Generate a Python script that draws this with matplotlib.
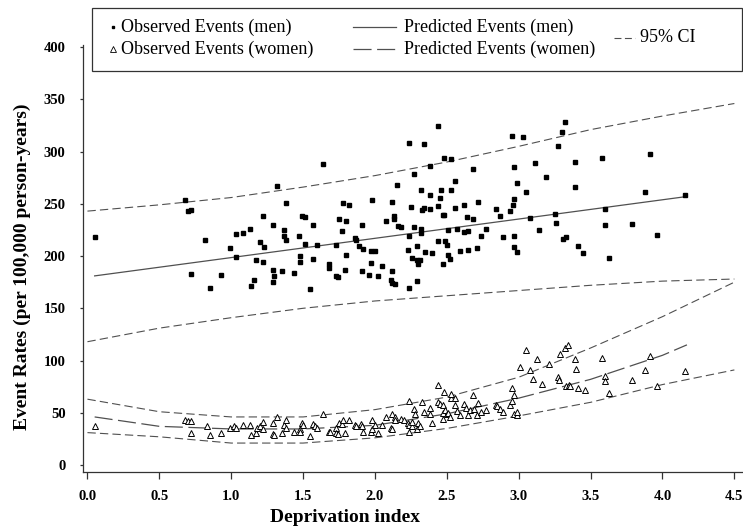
"""
Event rates by deprivation index, men and women, with fitted curves and 95% CI.
"""

import numpy as np
import matplotlib
matplotlib.use('Agg')
import matplotlib.pyplot as plt
from matplotlib.lines import Line2D
from matplotlib.patches import Rectangle

plt.rcParams['font.family'] = ['Liberation Serif', 'DejaVu Serif']
plt.rcParams['lines.scale_dashes'] = False

# Observed events (men)
men_x = [0.05, 0.68, 0.70, 0.72, 0.72, 0.82, 0.85, 0.93, 0.99, 1.03, 1.03, 1.08, 1.13, 1.14, 1.16,
         1.17, 1.20, 1.22, 1.22, 1.23, 1.29, 1.29, 1.30, 1.29, 1.32, 1.35, 1.37, 1.37, 1.38, 1.38,
         1.44, 1.47, 1.48, 1.48, 1.49, 1.51, 1.51, 1.55, 1.57, 1.57, 1.60, 1.64, 1.68, 1.68, 1.73,
         1.73, 1.74, 1.75, 1.77, 1.78, 1.79, 1.80, 1.80, 1.82, 1.86, 1.87, 1.89, 1.91, 1.91, 1.92,
         1.97, 2.00, 1.97, 1.96, 1.98, 2.02, 2.05, 2.08, 2.12, 2.13, 2.13, 2.12, 2.11, 2.12, 2.14,
         2.15, 2.16, 2.18, 2.24, 2.24, 2.25, 2.23, 2.24, 2.26, 2.29, 2.31, 2.27, 2.27, 2.29, 2.29,
         2.30, 2.32, 2.32, 2.32, 2.33, 2.34, 2.34, 2.35, 2.38, 2.38, 2.38, 2.40, 2.44, 2.44, 2.45,
         2.44, 2.46, 2.47, 2.48, 2.47, 2.48, 2.53, 2.49, 2.50, 2.51, 2.51, 2.52, 2.53, 2.56, 2.56,
         2.57, 2.59, 2.62, 2.62, 2.65, 2.64, 2.65, 2.68, 2.68, 2.71, 2.72, 2.74, 2.77, 2.84, 2.87,
         2.89, 2.94, 2.95, 2.96, 2.97, 2.97, 2.97, 2.97, 2.99, 2.99, 3.03, 3.05, 3.08, 3.11, 3.14,
         3.19, 3.25, 3.26, 3.27, 3.30, 3.32, 3.31, 3.33, 3.39, 3.39, 3.41, 3.45, 3.58, 3.60, 3.60,
         3.63, 3.79, 3.88, 3.91, 3.96, 4.16]
men_y = [218, 254, 243, 244, 183, 215, 169, 182, 208, 221, 199, 222, 226, 171, 177,
         196, 213, 238, 194, 209, 230, 187, 181, 175, 267, 186, 225, 219, 251, 215,
         184, 219, 200, 194, 238, 237, 212, 168, 230, 197, 211, 288, 192, 189, 211,
         181, 180, 235, 224, 251, 187, 234, 201, 249, 217, 215, 210, 230, 186, 207,
         205, 205, 193, 182, 254, 181, 190, 234, 252, 238, 235, 186, 177, 174, 173,
         268, 229, 228, 219, 308, 247, 206, 169, 198, 196, 196, 279, 228, 210, 176,
         192, 263, 226, 222, 244, 246, 307, 204, 258, 245, 286, 203, 324, 248, 256,
         214, 263, 239, 239, 192, 294, 293, 214, 211, 225, 201, 197, 263, 272, 246,
         226, 205, 249, 223, 224, 237, 206, 235, 283, 208, 252, 219, 226, 245, 238,
         218, 243, 315, 249, 255, 285, 219, 209, 204, 270, 314, 261, 236, 289, 225,
         276, 240, 232, 305, 319, 328, 216, 218, 290, 266, 210, 203, 294, 245, 230,
         198, 231, 261, 298, 220, 258]

# Observed events (women)
women_x = [0.05, 0.68, 0.70, 0.72, 0.72, 0.83, 0.85, 0.93, 0.99, 1.02, 1.03, 1.08, 1.13, 1.14, 1.17,
           1.18, 1.20, 1.22, 1.22, 1.29, 1.29, 1.30, 1.32, 1.35, 1.37, 1.38, 1.38, 1.44, 1.48, 1.49,
           1.50, 1.48, 1.55, 1.57, 1.58, 1.60, 1.64, 1.68, 1.69, 1.73, 1.73, 1.74, 1.75, 1.77, 1.78,
           1.79, 1.82, 1.86, 1.87, 1.90, 1.91, 1.92, 1.97, 1.98, 1.98, 2.00, 2.02, 2.05, 2.08, 2.11,
           2.12, 2.12, 2.14, 2.14, 2.18, 2.20, 2.23, 2.24, 2.26, 2.24, 2.29, 2.30, 2.31, 2.24, 2.27,
           2.28, 2.26, 2.33, 2.34, 2.38, 2.38, 2.40, 2.44, 2.44, 2.45, 2.47, 2.48, 2.47, 2.49, 2.50,
           2.51, 2.52, 2.47, 2.53, 2.53, 2.56, 2.56, 2.57, 2.59, 2.62, 2.63, 2.65, 2.66, 2.68, 2.69,
           2.71, 2.72, 2.74, 2.77, 2.84, 2.85, 2.87, 2.89, 2.94, 2.95, 2.95, 2.97, 2.97, 2.99, 2.99,
           3.01, 3.05, 3.08, 3.10, 3.13, 3.16, 3.21, 3.27, 3.28, 3.29, 3.32, 3.34, 3.33, 3.35, 3.36,
           3.39, 3.40, 3.41, 3.46, 3.58, 3.60, 3.60, 3.63, 3.79, 3.88, 3.91, 3.96, 4.16]
women_y = [37, 43, 42, 42, 31, 37, 29, 31, 35, 37, 35, 38, 38, 29, 31,
           35, 37, 41, 34, 40, 30, 29, 46, 31, 38, 35, 43, 32, 34, 40,
           38, 32, 28, 39, 37, 35, 49, 32, 32, 35, 31, 30, 40, 39, 43,
           31, 43, 38, 37, 39, 37, 32, 32, 34, 43, 38, 31, 38, 46, 35,
           34, 49, 46, 43, 44, 43, 40, 38, 37, 32, 34, 40, 37, 61, 54,
           49, 41, 60, 51, 55, 49, 40, 77, 60, 58, 57, 70, 50, 53, 49,
           50, 46, 44, 64, 68, 64, 57, 52, 48, 58, 55, 48, 53, 67, 54,
           48, 59, 51, 53, 57, 56, 54, 51, 57, 61, 74, 67, 49, 48, 51,
           94, 110, 91, 82, 101, 78, 97, 84, 81, 106, 112, 115, 76, 77, 76,
           101, 92, 74, 72, 102, 85, 80, 69, 81, 91, 104, 76, 90]

# Predicted curves
pred_men_x = [0.05, 4.17]
pred_men_y = [181, 257]
pred_women_x = [0.05, 0.5, 1.0, 1.5, 2.0, 2.5, 3.0, 3.5, 4.0, 4.17]
pred_women_y = [46, 37, 34.5, 34.5, 38, 49, 64, 82, 105, 115]

# 95% CI curves
ci_x = [0.0, 0.5, 1.0, 1.5, 2.0, 2.5, 3.0, 3.5, 4.0, 4.5]
ci_men_hi = [243, 249, 256, 266, 277, 290, 305, 321, 334, 346]
ci_men_lo = [118, 131, 141, 150, 157, 162, 167, 172, 176, 178]
ci_women_hi = [63, 51, 46, 46, 53, 65, 84, 112, 142, 175]
ci_women_lo = [31, 27, 21, 21, 26, 35, 47, 60, 77, 91]

x_ticks = [0.0, 0.5, 1.0, 1.5, 2.0, 2.5, 3.0, 3.5, 4.0, 4.5]
y_ticks = [0, 50, 100, 150, 200, 250, 300, 350, 400]

W, H = 743, 528
LINE_COLOR = '#505050'
CI_DASH = (6, 3)
WOMEN_DASH = (13, 4)


def fx(px):
    return px / W


def fy(py):
    return 1 - py / H


fig = plt.figure(figsize=(W / 100, H / 100), dpi=100)
ax = fig.add_axes([fx(83), fy(472), fx(743) - fx(83), fy(45) - fy(472)])

# CI bands
for yy in (ci_men_hi, ci_men_lo, ci_women_hi, ci_women_lo):
    ax.plot(ci_x, yy, color=LINE_COLOR, lw=0.8, dashes=CI_DASH)

# fitted lines
ax.plot(pred_men_x, pred_men_y, color=LINE_COLOR, lw=0.9)
ax.plot(pred_women_x, pred_women_y, color=LINE_COLOR, lw=0.9, dashes=WOMEN_DASH)

# observations
ax.plot(men_x, men_y, 's', color='black', markersize=2.6, linestyle='None')
ax.plot(women_x, women_y, '^', markerfacecolor='white', markeredgecolor='black',
        markeredgewidth=0.7, markersize=5, linestyle='None')

ax.set_xlim(-0.031, 4.56)
ax.set_ylim(-6.7, 402)
ax.set_xticks(x_ticks)
ax.set_xticklabels([f'{t:.1f}' for t in x_ticks])
ax.set_yticks(y_ticks)
ax.spines['top'].set_visible(False)
ax.spines['right'].set_visible(False)
for s in ('left', 'bottom'):
    ax.spines[s].set_linewidth(0.9)
    ax.spines[s].set_color('#333333')
ax.tick_params(axis='x', length=5, width=0.9, pad=8, labelsize=10.5, color='#333333')
ax.tick_params(axis='y', length=2.5, width=0.9, pad=10, labelsize=10.5, color='#333333')
for lab in ax.get_xticklabels() + ax.get_yticklabels():
    lab.set_fontweight('bold')

fig.text(fx(22), fy(267), 'Event Rates (per 100,000 person-years)', rotation=90,
         fontsize=14, fontweight='bold', ha='center', va='center')
fig.text(fx(345), fy(518), 'Deprivation index', fontsize=14, fontweight='bold',
         ha='center', va='center')

# legend box, drawn by hand so "95% CI" sits between the two rows
fig.add_artist(Rectangle((fx(92), fy(71)), fx(742) - fx(92), fy(8) - fy(71),
                         transform=fig.transFigure, fill=False, edgecolor='#333333', lw=0.9))
LEG_FS = 13
fig.add_artist(Line2D([fx(113)], [fy(27)], marker='s', color='black', markersize=2,
                      linestyle='None', transform=fig.transFigure))
fig.text(fx(121), fy(27), 'Observed Events (men)', fontsize=LEG_FS, va='center')
fig.add_artist(Line2D([fx(113)], [fy(49)], marker='^', markerfacecolor='white',
                      markeredgecolor='black', markeredgewidth=0.6, markersize=4,
                      linestyle='None', transform=fig.transFigure))
fig.text(fx(121), fy(49), 'Observed Events (women)', fontsize=LEG_FS, va='center')
fig.add_artist(Line2D([fx(353), fx(396)], [fy(27), fy(27)], color=LINE_COLOR, lw=0.9,
                      transform=fig.transFigure))
fig.text(fx(404), fy(27), 'Predicted Events (men)', fontsize=LEG_FS, va='center')
fig.add_artist(Line2D([fx(353), fx(396)], [fy(49), fy(49)], color=LINE_COLOR, lw=0.9,
                      dashes=WOMEN_DASH, transform=fig.transFigure))
fig.text(fx(404), fy(49), 'Predicted Events (women)', fontsize=LEG_FS, va='center')
fig.add_artist(Line2D([fx(614), fx(635)], [fy(38), fy(38)], color=LINE_COLOR, lw=0.8,
                      dashes=(5, 2.5), transform=fig.transFigure))
fig.text(fx(640), fy(38), '95% CI', fontsize=LEG_FS, va='center')

fig.savefig('out.png', dpi=100)
plt.close(fig)
